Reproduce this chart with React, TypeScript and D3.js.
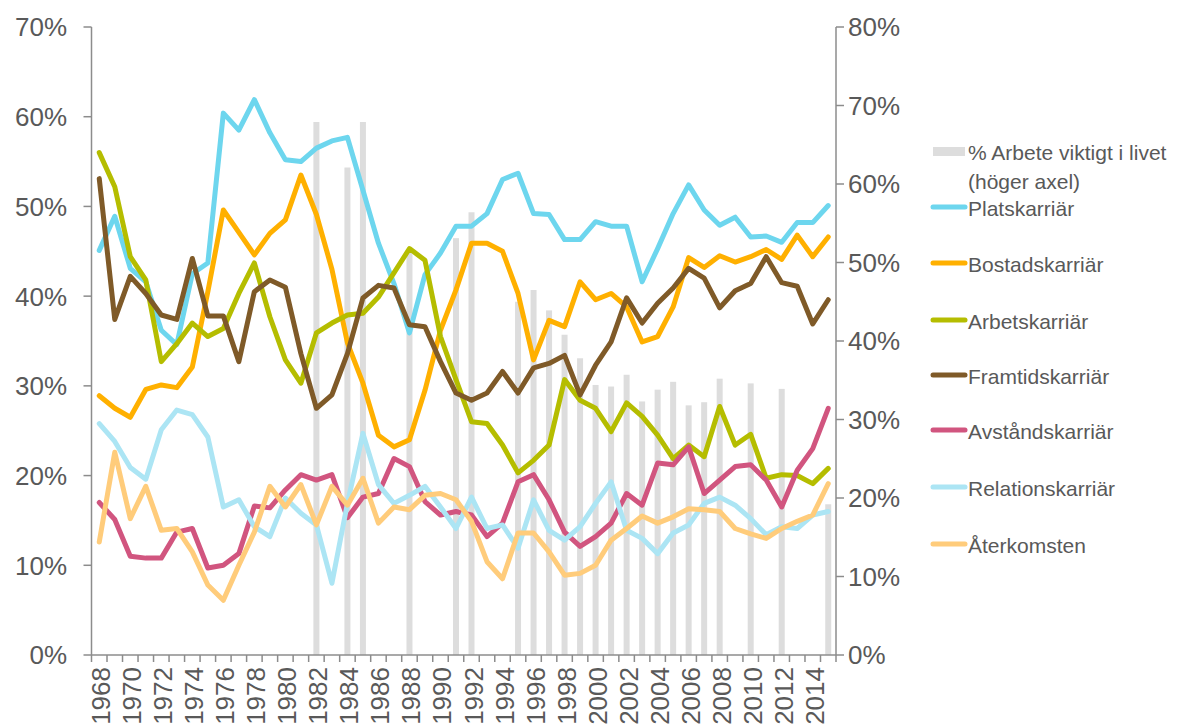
import React from "react";
import * as d3 from "d3";

const years: number[] = d3.range(1968, 2016);

const platskarriar = [45.1, 48.9, 43.1, 41.6, 36.2, 34.6, 42.5, 43.7, 60.4, 58.5, 61.9, 58.2, 55.2, 55.0, 56.5, 57.3, 57.7, 51.8, 45.9, 41.4, 35.9, 42.4, 44.8, 47.8, 47.8, 49.2, 53.0, 53.7, 49.2, 49.1, 46.3, 46.3, 48.3, 47.8, 47.8, 41.6, 45.3, 49.2, 52.4, 49.6, 47.9, 48.8, 46.6, 46.7, 46.0, 48.2, 48.2, 50.1];
const bostadskarriar = [28.9, 27.5, 26.5, 29.6, 30.1, 29.8, 32.1, 40.5, 49.6, 47.1, 44.6, 47.0, 48.5, 53.5, 49.1, 43.0, 34.8, 30.3, 24.5, 23.2, 24.0, 29.5, 36.2, 40.7, 45.9, 45.9, 45.0, 40.3, 32.9, 37.3, 36.6, 41.6, 39.6, 40.3, 38.8, 34.9, 35.5, 38.8, 44.3, 43.2, 44.5, 43.8, 44.4, 45.2, 44.1, 46.8, 44.4, 46.6];
const arbetskarriar = [56.0, 52.2, 44.4, 41.8, 32.7, 34.7, 37.0, 35.5, 36.4, 40.3, 43.7, 37.7, 32.9, 30.3, 35.9, 37.0, 37.9, 38.1, 39.9, 42.6, 45.3, 44.0, 35.5, 30.7, 26.0, 25.8, 23.4, 20.3, 21.7, 23.4, 30.7, 28.4, 27.5, 24.9, 28.1, 26.6, 24.5, 21.9, 23.4, 22.1, 27.7, 23.4, 24.6, 19.7, 20.1, 20.0, 19.1, 20.8];
const framtidskarriar = [53.1, 37.4, 42.2, 40.3, 37.9, 37.4, 44.2, 37.8, 37.8, 32.7, 40.5, 41.8, 41.0, 33.6, 27.5, 29.0, 33.6, 39.8, 41.2, 40.9, 36.8, 36.6, 32.7, 29.2, 28.4, 29.2, 31.6, 29.2, 32.0, 32.5, 33.4, 29.0, 32.3, 34.9, 39.8, 37.0, 39.2, 40.9, 43.1, 42.0, 38.7, 40.6, 41.4, 44.4, 41.5, 41.1, 36.9, 39.6];
const avstandskarriar = [17.0, 15.1, 11.0, 10.8, 10.8, 13.7, 14.1, 9.7, 10.0, 11.3, 16.6, 16.4, 18.4, 20.1, 19.5, 20.1, 15.3, 17.6, 18.0, 21.9, 21.0, 17.1, 15.6, 16.0, 15.6, 13.2, 14.7, 19.3, 20.1, 17.3, 13.7, 12.1, 13.2, 14.7, 18.0, 16.7, 21.4, 21.2, 23.2, 18.0, 19.5, 21.0, 21.2, 19.5, 16.5, 20.6, 23.0, 27.5];
const relationskarriar = [25.8, 23.8, 20.9, 19.6, 25.1, 27.3, 26.8, 24.3, 16.5, 17.3, 14.3, 13.2, 17.5, 15.8, 14.5, 8.0, 16.9, 24.7, 19.0, 16.9, 17.8, 18.8, 16.5, 14.1, 17.6, 14.1, 14.5, 11.9, 17.3, 13.9, 12.8, 14.3, 16.9, 19.3, 13.9, 13.0, 11.3, 13.6, 14.5, 16.9, 17.6, 16.7, 15.2, 13.4, 14.3, 14.1, 15.6, 16.0];
const aterkomsten = [12.6, 22.6, 15.2, 18.8, 13.9, 14.1, 11.5, 7.8, 6.1, 10.0, 13.7, 18.8, 16.5, 19.0, 14.5, 18.8, 16.7, 19.7, 14.7, 16.5, 16.2, 17.8, 18.0, 17.3, 14.9, 10.4, 8.5, 13.6, 13.6, 11.5, 8.9, 9.1, 10.0, 12.8, 14.1, 15.5, 14.7, 15.4, 16.3, 16.2, 16.0, 14.1, 13.5, 13.0, 14.1, 14.9, 15.6, 19.1];

const barYears = [1982, 1984, 1985, 1988, 1991, 1992, 1995, 1996, 1997, 1998, 1999, 2000, 2001, 2002, 2003, 2004, 2005, 2006, 2007, 2008, 2010, 2012, 2015];
const barValues = [67.9, 62.1, 67.9, 51.5, 53.1, 56.4, 45.0, 46.5, 43.9, 40.8, 37.8, 34.4, 34.2, 35.7, 32.3, 33.8, 34.8, 31.8, 32.2, 35.2, 34.6, 33.9, 19.2];

const seriesNames = ["Platskarriär", "Bostadskarriär", "Arbetskarriär", "Framtidskarriär", "Avståndskarriär", "Relationskarriär", "Återkomsten"];
const seriesValues = [platskarriar, bostadskarriar, arbetskarriar, framtidskarriar, avstandskarriar, relationskarriar, aterkomsten];
const seriesColors = ["#6DD6EE", "#FFB000", "#B5BD00", "#7F5A28", "#D1557F", "#ACE5F4", "#FFCC7B"];
const barLabel1 = "% Arbete viktigt i livet";
const barLabel2 = "(höger axel)";

const leftTicks = [0, 10, 20, 30, 40, 50, 60, 70];
const rightTicks = [0, 10, 20, 30, 40, 50, 60, 70, 80];

const W = 1192;
const H = 727;
const left = 91.5;
const right = 836;
const top = 27;
const bottom = 655;
const textColor = "#595959";
const axisColor = "#8C8C8C";
const font = "'Liberation Sans', Arial, sans-serif";

export default function App() {
  const x = d3.scaleBand<number>().domain(years).range([left, right]).paddingInner(0).paddingOuter(0);
  const yL = d3.scaleLinear().domain([0, 70]).range([bottom, top]);
  const yR = d3.scaleLinear().domain([0, 80]).range([bottom, top]);
  const cx = (yr: number) => (x(yr) as number) + x.bandwidth() / 2;
  const line = d3
    .line<number>()
    .x((_, i) => cx(years[i]))
    .y((d) => yL(d));

  const barW = 6;
  const legendX = 931;
  const legendYs = [210, 266, 323, 378, 433, 490, 547];

  return (
    <svg width={W} height={H} style={{ position: "absolute", left: 0, top: 0, background: "#fff" }} fontFamily={font}>
      {/* bars */}
      {barYears.map((yr, i) => (
        <rect key={yr} x={cx(yr) - barW / 2} y={yR(barValues[i])} width={barW} height={bottom - yR(barValues[i])} fill="#DDDDDD" />
      ))}
      {/* lines */}
      {seriesValues.map((vals, i) => (
        <path key={seriesNames[i]} d={line(vals) || ""} fill="none" stroke={seriesColors[i]} strokeWidth={5} strokeLinejoin="round" strokeLinecap="round" />
      ))}
      {/* left axis */}
      <line x1={left} x2={left} y1={top} y2={bottom} stroke={axisColor} strokeWidth={1.5} />
      {leftTicks.map((t) => (
        <g key={"l" + t}>
          <line x1={left - 8} x2={left} y1={yL(t)} y2={yL(t)} stroke={axisColor} strokeWidth={1.5} />
          <text x={67} y={yL(t)} dy="0.36em" textAnchor="end" fontSize={26} fill={textColor}>
            {t}%
          </text>
        </g>
      ))}
      {/* right axis */}
      <line x1={right} x2={right} y1={top} y2={bottom} stroke={axisColor} strokeWidth={1.5} />
      {rightTicks.map((t) => (
        <g key={"r" + t}>
          <line x1={right} x2={right + 8} y1={yR(t)} y2={yR(t)} stroke={axisColor} strokeWidth={1.5} />
          <text x={848} y={yR(t)} dy="0.36em" textAnchor="start" fontSize={26} fill={textColor}>
            {t}%
          </text>
        </g>
      ))}
      {/* x axis */}
      <line x1={left} x2={right} y1={bottom} y2={bottom} stroke={axisColor} strokeWidth={1.5} />
      {years.concat([2016]).map((yr, i) => {
        const xx = left + i * x.bandwidth();
        return <line key={"t" + yr} x1={xx} x2={xx} y1={bottom} y2={bottom + 7} stroke={axisColor} strokeWidth={1.5} />;
      })}
      {years
        .filter((yr) => yr % 2 === 0)
        .map((yr) => (
          <text key={"x" + yr} transform={`translate(${cx(yr) + 11},${667}) rotate(-90)`} textAnchor="end" fontSize={26} fill={textColor}>
            {yr}
          </text>
        ))}
      {/* legend */}
      <rect x={933} y={147} width={32} height={9} fill="#DDDDDD" />
      <text x={968} y={160} fontSize={21} fill={textColor}>
        {barLabel1}
      </text>
      <text x={968} y={189} fontSize={21} fill={textColor}>
        {barLabel2}
      </text>
      {seriesNames.map((name, i) => (
        <g key={"lg" + name}>
          <line x1={legendX + 2} x2={legendX + 34} y1={legendYs[i] - 3} y2={legendYs[i] - 3} stroke={seriesColors[i]} strokeWidth={5} strokeLinecap="round" />
          <text x={968} y={legendYs[i] + 6} fontSize={21} fill={textColor}>
            {name}
          </text>
        </g>
      ))}
    </svg>
  );
}
